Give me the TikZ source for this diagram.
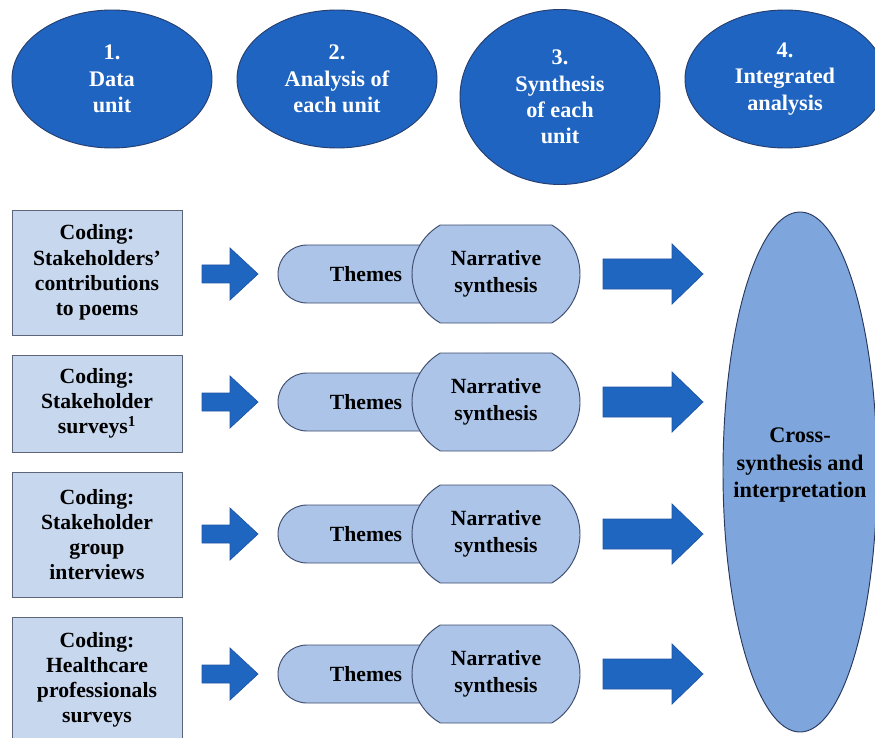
\documentclass[tikz,border=0pt]{standalone}
\usepackage{fontspec}
\setmainfont{Liberation Serif}
\usetikzlibrary{shapes.geometric,shapes.misc}

\definecolor{stageblue}{RGB}{31,100,192}
\definecolor{stageline}{RGB}{38,62,112}
\definecolor{boxfill}{RGB}{199,215,238}
\definecolor{boxline}{RGB}{92,102,122}
\definecolor{pillfill}{RGB}{172,196,232}
\definecolor{pillline}{RGB}{62,76,110}
\definecolor{crossfill}{RGB}{126,166,221}
\definecolor{crossline}{RGB}{40,56,92}
\definecolor{arrowfill}{RGB}{31,102,192}
\definecolor{arrowline}{RGB}{32,84,165}

\tikzset{
  txt/.style={font=\bfseries\fontsize{18.5}{21.5}\selectfont, align=center, inner sep=0pt},
  stage/.style={txt, font=\bfseries\fontsize{19}{22.5}\selectfont, ellipse,
                fill=stageblue, draw=stageline, line width=0.8pt,
                text=white, minimum width=6cm, minimum height=4.14cm},
  codebox/.style={txt, rectangle, fill=boxfill, draw=boxline, line width=0.8pt,
                  minimum width=5.1cm},
  themepill/.style={txt, rounded rectangle, rounded rectangle arc length=180,
                    fill=pillfill, draw=pillline, line width=0.8pt,
                    minimum width=5.28cm, minimum height=1.74cm},
  narrpill/.style={txt, font=\bfseries\fontsize{18.5}{23.5}\selectfont,
                   rounded rectangle, rounded rectangle arc length=120,
                   fill=pillfill, draw=pillline, line width=0.8pt,
                   minimum width=5.04cm, minimum height=2.94cm},
  crossbox/.style={ellipse, inner sep=0pt, fill=crossfill, draw=crossline, line width=0.8pt,
                   minimum width=4.62cm, minimum height=15.6cm},
  crosstext/.style={txt, font=\bfseries\fontsize{19}{23.5}\selectfont},
  blockarrow/.style={fill=arrowfill, draw=arrowline, line width=0.6pt, line join=miter}
}

\begin{document}
\begin{tikzpicture}[x=0.03cm, y=-0.03cm]
\useasboundingbox (0,0) rectangle (875,738);
\clip (0,0) rectangle (875,738);

% stage headings
\node[stage] (s1) at (112,79) {1.\\Data\\unit};
\node[stage] (s2) at (337,79) {2.\\Analysis of\\each unit};
\node[stage, minimum height=5.25cm] (s3) at (560,97) {3.\\Synthesis\\of each\\unit};
\node[stage] (s4) at (785,79) {4.\\Integrated\\analysis};

% coding boxes
\node[codebox, minimum height=3.75cm] (b1) at (97,272.5) {Coding:\\Stakeholders’\\contributions\\to poems};
\node[codebox, minimum height=2.91cm] (b2) at (97,403.5) {Coding:\\Stakeholder\\surveys\textsuperscript{1}};
\node[codebox, minimum height=3.75cm] (b3) at (97,534.5) {Coding:\\Stakeholder\\group\\interviews};
\node[codebox, minimum height=3.78cm] (b4) at (97,680) {Coding:\\Healthcare\\professionals\\surveys};

% themes and narrative synthesis per data unit
\foreach \i/\y in {1/274, 2/402, 3/534, 4/674} {
  \node[themepill] (t\i) at (366,\y) {Themes};
  \node[narrpill] (n\i) at (496,\y) {Narrative\\synthesis};
  % arrow from coding box to themes
  \draw[blockarrow] (202,\y-9) -- (230,\y-9) -- (230,\y-26) -- (258,\y)
                    -- (230,\y+26) -- (230,\y+9) -- (202,\y+9) -- cycle;
  % arrow from narrative synthesis to cross-synthesis
  \draw[blockarrow] (603,\y-15) -- (672,\y-15) -- (672,\y-30) -- (703,\y)
                    -- (672,\y+30) -- (672,\y+15) -- (603,\y+15) -- cycle;
}

% integrated analysis
\node[crossbox] (x) at (800,472) {};
\node[crosstext] (xt) at ([yshift=0.21cm]x.center) {Cross-\\synthesis and\\interpretation};

\end{tikzpicture}
\end{document}
